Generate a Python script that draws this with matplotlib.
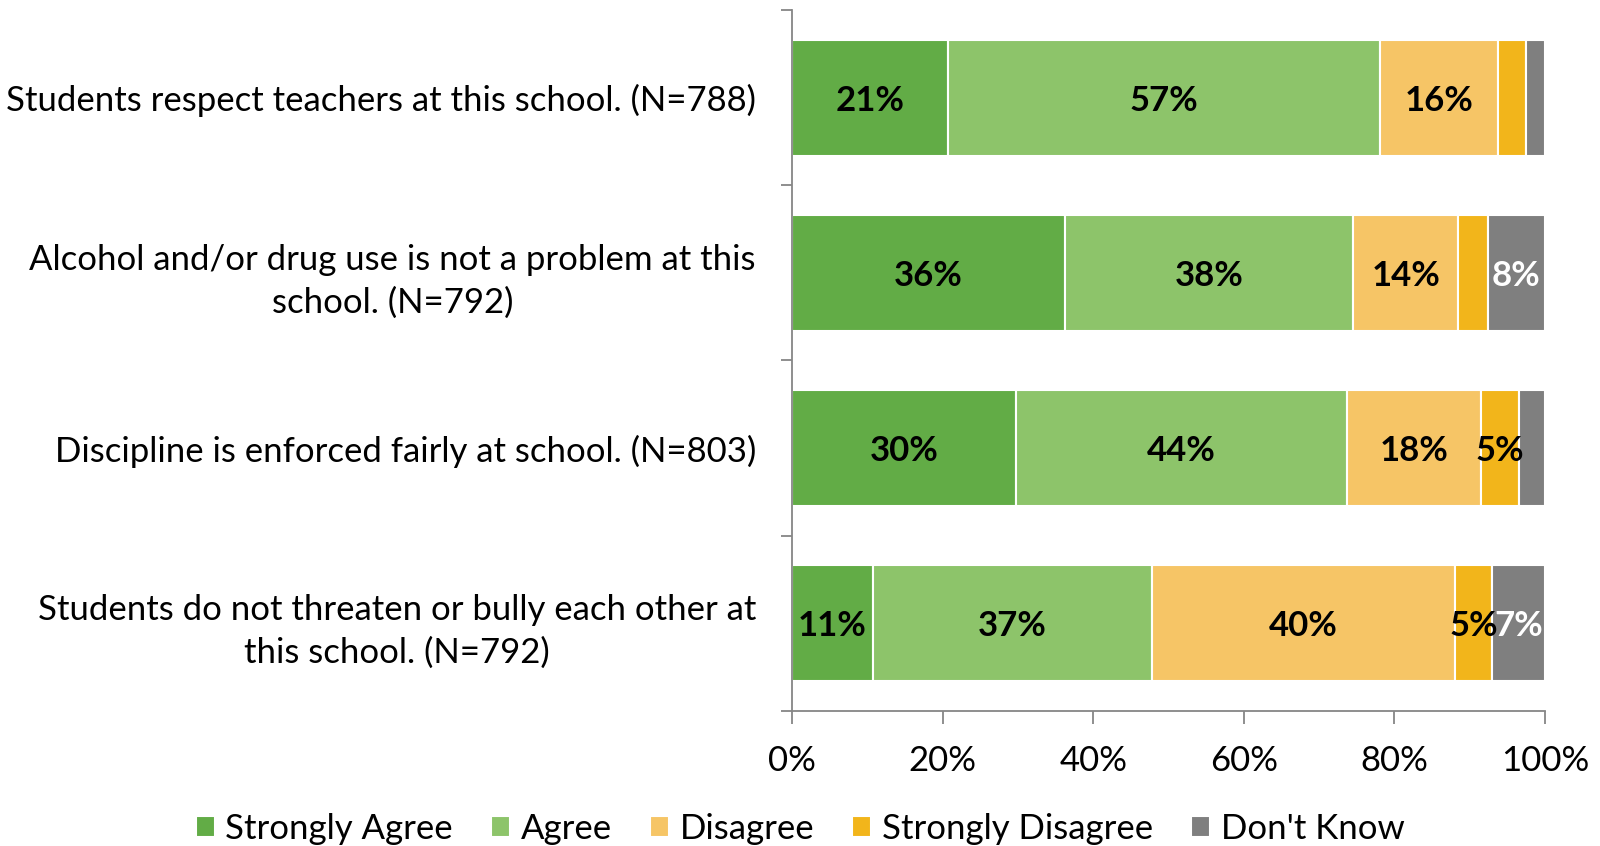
import matplotlib.pyplot as plt
import numpy as np

# survey items (top to bottom)
questions = ["Students respect teachers at this school. (N=788)",
             "Alcohol and/or drug use is not a problem at this\nschool. (N=792)",
             "Discipline is enforced fairly at school. (N=803)",
             "Students do not threaten or bully each other at\nthis school. (N=792)"]
responses = ["Strongly Agree", "Agree", "Disagree", "Strongly Disagree", "Don't Know"]

strongly_agree = [20.7, 36.2, 29.8, 10.7]
agree = [57.4, 38.3, 43.9, 37.1]
disagree = [15.6, 14.0, 17.8, 40.2]
strongly_disagree = [3.8, 3.9, 5.0, 5.0]
dont_know = [2.5, 7.6, 3.5, 7.0]

colors = ["#62AC46", "#8DC46A", "#F6C566", "#F2B51B", "#7F7F7F"]
text_colors = ["black", "black", "black", "black", "white"]

plt.rcParams['font.family'] = ['Lato', 'DejaVu Sans']

fig = plt.figure(figsize=(16, 8.46), dpi=100)
ax = fig.add_axes([0.495, 0.16, 0.4706, 0.828])

series = [strongly_agree, agree, disagree, strongly_disagree, dont_know]
y = np.arange(len(questions))
left = np.zeros(len(questions))
for vals, name, col, tcol in zip(series, responses, colors, text_colors):
    vals = np.array(vals)
    ax.barh(y, vals, left=left, height=0.66, color=col, edgecolor='white',
            linewidth=1.5, label=name)
    for yi, (l, v) in enumerate(zip(left, vals)):
        if round(v) >= 5:
            ax.text(l + v / 2, yi, f"{round(v)}%", ha='center', va='center_baseline',
                    fontsize=25, fontweight='bold', color=tcol)
    left = left + vals

ax.set_xlim(0, 100)
ax.set_ylim(3.5, -0.5)
ax.set_xticks(np.arange(0, 101, 20))
ax.set_xticklabels([f"{v}%" for v in range(0, 101, 20)])
ax.set_yticks(y)
ax.set_yticklabels(questions)
ax.set_yticks(np.arange(-0.5, 4, 1), minor=True)
for lbl in ax.get_yticklabels():
    lbl.set_multialignment('center')
    lbl.set_linespacing(1.4)

for s in ['top', 'right']:
    ax.spines[s].set_visible(False)
for s in ['left', 'bottom']:
    ax.spines[s].set_color('#868686')
    ax.spines[s].set_linewidth(1.3)

ax.tick_params(axis='y', which='major', length=0, pad=26, labelsize=25)
ax.tick_params(axis='y', which='minor', length=8, color='#868686', width=1.3)
ax.tick_params(axis='x', length=9, color='#868686', width=1.3, labelsize=25, pad=16)

ax.legend(loc='lower center', bbox_to_anchor=(0.5, -0.019), bbox_transform=fig.transFigure,
          ncol=5, frameon=False, fontsize=25, handlelength=0.55, handleheight=0.55,
          handletextpad=0.3, columnspacing=1.1, borderpad=0)

plt.savefig("out.png", dpi=100)
